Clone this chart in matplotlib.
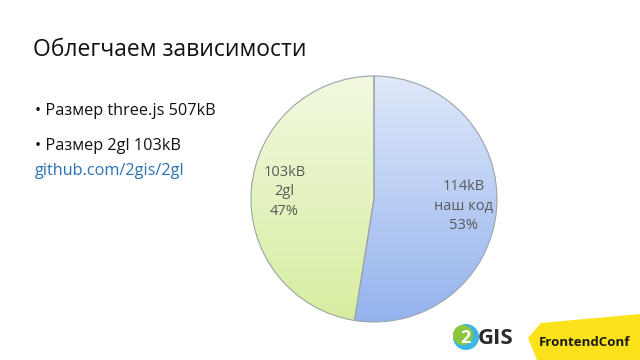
import numpy as np
import matplotlib
matplotlib.use("Agg")
import matplotlib.pyplot as plt
from matplotlib.patches import Polygon, Circle

plt.rcParams['font.family'] = ['Open Sans', 'Noto Sans', 'DejaVu Sans']

# data
slice_names = ['наш код', '2gl']
slice_kb = [114, 103]
top_color = ['#dfe8f9', '#f2f9e0']
bottom_color = ['#94b3ee', '#d6eda0']
bullets = ['Размер three.js 507kB', 'Размер 2gl 103kB']
link = 'github.com/2gis/2gl'
title = 'Облегчаем зависимости'

W, H = 640, 360
fig = plt.figure(figsize=(6.4, 3.6), dpi=100)
fig.patch.set_facecolor('white')

# slide texts
fig.text(33 / W, 1 - 50 / H, title, fontsize=16.5, color='#111111', va='center', ha='left')
for i, b in enumerate(bullets):
    fig.text(35 / W, 1 - (111 + 35 * i) / H, '\u2022 ' + b, fontsize=11.7,
             color='#111111', va='center', ha='left')
fig.text(35 / W, 1 - 171 / H, link, fontsize=11.7, color='#2a72b5', va='center', ha='left')

# pie
cx, cy, r = 374, 199, 123
lim = 1.05
side = 2 * lim * r
ax = fig.add_axes([(cx - side / 2) / W, (H - cy - side / 2) / H, side / W, side / H])
total = sum(slice_kb)
labels = ['%dkB\n%s\n%d%%' % (kb, n, round(kb * 100 / total)) for kb, n in zip(slice_kb, slice_names)]
wedges, texts = ax.pie(slice_kb, labels=labels, startangle=90, counterclock=False,
                       labeldistance=0.73, colors=['none', 'none'],
                       wedgeprops=dict(edgecolor='#9aa4a8', linewidth=0.8),
                       textprops=dict(fontsize=10.5, color='#595959', linespacing=1.4))
for t in texts:
    t.set_ha('center')
    t.set_va('center')

grad = np.linspace(0, 1, 256)[:, None]
for w, c0, c1 in zip(wedges, top_color, bottom_color):
    cmap = matplotlib.colors.LinearSegmentedColormap.from_list('g', [c0, c1])
    im = ax.imshow(grad, cmap=cmap, extent=[-1, 1, -1, 1], origin='upper',
                   aspect='auto', zorder=0.5)
    im.set_clip_path(w)
ax.set_xlim(-lim, lim)
ax.set_ylim(-lim, lim)
ax.set_aspect('equal')
ax.axis('off')

# logos
la = fig.add_axes([0, 0, 1, 1], zorder=-1)
la.set_xlim(0, W)
la.set_ylim(H, 0)
la.axis('off')
la.add_patch(Polygon([(541, 323), (528, 338), (537, 360), (640, 360), (640, 314)],
                     closed=True, facecolor='#fbe21a', edgecolor='none'))
la.add_patch(Circle((466, 337), 13, facecolor='#3cb4e5', edgecolor='none'))
la.add_patch(Circle((463, 335), 10, facecolor='#8cc63f', edgecolor='none'))
la.text(465, 338, '2', fontsize=13, fontweight='bold', color='white', ha='center', va='center')
la.text(478, 339, 'GIS', fontsize=16, fontweight='bold', color='#2b2b2b', ha='left', va='center')
la.text(584, 342, 'FrontendConf', fontsize=9.5, fontweight='bold', color='#1a1a1a',
        ha='center', va='center')

fig.savefig('out.png', dpi=100)
